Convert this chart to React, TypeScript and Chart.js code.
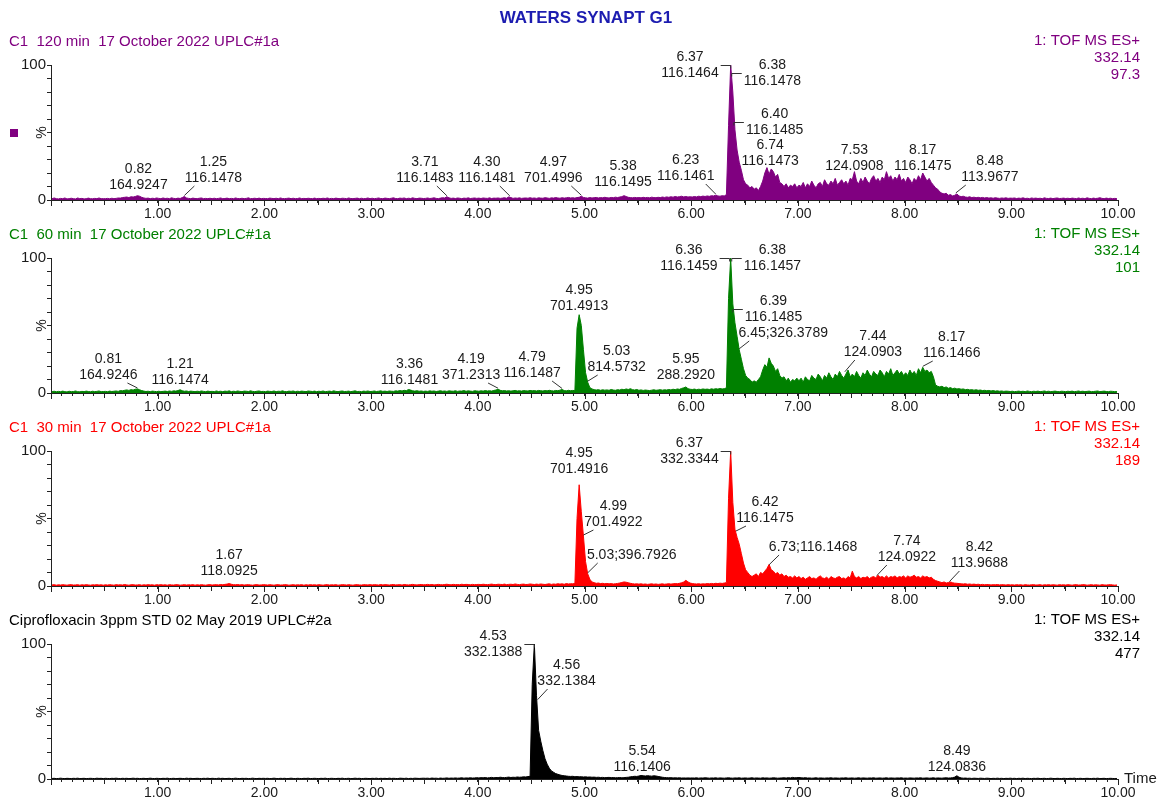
import React, { useEffect, useRef } from "react";
import { Chart, registerables } from "chart.js";

Chart.register(...registerables);

const FONT = '"Liberation Sans", Arial, Helvetica, sans-serif';
const W = 1165;
const H = 802;

// ---------- text content ----------
const TITLE = "WATERS SYNAPT G1";
const HEADERS = [
  "C1  120 min  17 October 2022 UPLC#1a",
  "C1  60 min  17 October 2022 UPLC#1a",
  "C1  30 min  17 October 2022 UPLC#1a",
  "Ciprofloxacin 3ppm STD 02 May 2019 UPLC#2a",
];
const SCAN_FUNCTION = "1: TOF MS ES+";
const TRACE_MASS = "332.14";
const FULL_SCALE = ["97.3", "101", "189", "477"];
const X_AXIS_NAME = "Time";
const Y_AXIS_NAME = "%";

// ---------- trace sampling (retention time, min) ----------
const T_START = 0.01;
const T_STEP = 0.02;

// relative intensity (%) per scan, 25 scans per 0.5 min row
const P1_VALUES = [
  1, 1.5, 1, 0.8, 1.2, 1, 1.5, 0.8, 1, 1.3, 1, 0.8, 1.5, 1, 1.2, 0.8, 1, 1.4, 1, 0.9, 1.2, 1, 1.5, 1, 1,
  1, 1.2, 0.9, 1.3, 1, 1.2, 1.5, 1.4, 1.8, 2, 2.2, 1.8, 2.4, 2.2, 2.6, 3.2, 2.8, 2, 1.5, 1.2, 1.4, 1, 1.3, 1.1, 1.5,
  1.2, 1, 1.5, 1.1, 1.3, 1, 1.6, 1.2, 1, 1.4, 1.1, 1.8, 2.6, 1.5, 1.2, 1, 1.4, 1.1, 1, 1.3, 1.5, 1, 1.2, 1, 1.3,
  1, 1.3, 1, 1.2, 1.5, 1, 1.1, 1.4, 1, 1.2, 1, 1.5, 1.1, 1, 1.3, 1, 1.2, 1.6, 1, 1.1, 1.3, 1, 1.4, 1, 1.2,
  1.1, 1, 1.4, 1.2, 1, 1.3, 1, 1.5, 1.1, 1, 1.2, 1.4, 1, 1.3, 1, 1.1, 1.5, 1, 1.2, 1, 1.3, 1.1, 1, 1.4, 1,
  1.2, 1, 1.3, 1.1, 1.5, 1, 1.2, 1, 1.4, 1.1, 1, 1.3, 1.2, 1, 1.5, 1.1, 1, 1.2, 1.4, 1, 1.3, 1, 1.1, 1.5, 1,
  1.3, 1, 1.2, 1.5, 1.1, 1, 1.4, 1.2, 1, 1.3, 1.6, 1.1, 1, 1.4, 1.2, 1.5, 1, 1.3, 1.1, 1.6, 1.2, 1, 1.4, 1.3, 1.1,
  1.2, 1.5, 1.1, 1.3, 1.6, 1.2, 1, 1.4, 1.7, 1.5, 2.4, 1.6, 1.2, 1.4, 1.1, 1.5, 1.3, 1, 1.4, 1.2, 1.6, 1.1, 1.3, 1.5, 1.2,
  1.4, 1.1, 1.5, 1.3, 1.2, 1.6, 1.1, 1.4, 1.3, 1.5, 1.2, 1.4, 1.7, 1.3, 2.3, 1.8, 1.2, 1.5, 1.3, 1.6, 1.2, 1.4, 1.5, 1.3, 1.7,
  1.3, 1.5, 1.2, 1.6, 1.4, 1.3, 1.7, 1.5, 1.2, 1.6, 1.4, 1.8, 1.5, 1.3, 1.7, 1.4, 1.6, 1.9, 1.5, 1.7, 1.4, 1.8, 2, 2.8, 1.9,
  1.6, 1.4, 1.8, 1.5, 1.7, 1.9, 1.5, 1.8, 1.6, 2, 1.7, 1.5, 1.9, 1.7, 2.1, 1.8, 2.2, 2.5, 3.2, 2.6, 2, 1.8, 1.6, 1.9, 1.7,
  1.8, 1.6, 2, 1.7, 1.9, 1.6, 2.1, 1.8, 1.7, 2, 1.8, 2.2, 1.9, 2.3, 2, 2.4, 2.1, 2.6, 2.2, 2.5, 2.8, 2.3, 2.6, 2.2, 2.4,
  2.2, 2.6, 2.3, 2.8, 2.5, 2.9, 2.6, 3, 2.7, 3.2, 3, 3.6, 3, 2.8, 3.2, 3, 4, 55, 100, 80, 52, 37, 28, 22, 15,
  12, 11, 9, 10, 8, 9, 7, 10, 14, 20, 24, 19, 23, 21, 17, 19, 13, 12, 10, 12, 9, 11, 10, 12, 9,
  11, 10, 13, 9, 12, 10, 14, 11, 9, 12, 13, 10, 15, 12, 11, 14, 12, 16, 11, 13, 15, 12, 14, 11, 16,
  15, 21, 14, 12, 16, 13, 17, 14, 12, 16, 18, 14, 16, 13, 17, 15, 21, 16, 18, 14, 17, 15, 19, 14, 16,
  13, 17, 15, 12, 16, 14, 18, 15, 20, 17, 14, 16, 13, 11, 9, 8, 6, 5, 4.5, 5, 3.5, 4, 3, 3.5, 4.5,
  3, 2.5, 2.8, 2.2, 2, 2.4, 1.8, 2.1, 1.7, 2, 1.6, 1.9, 1.5, 1.8, 1.4, 1.6, 1.3, 1.7, 1.4, 1.2, 1.5, 1.3, 1.6, 1.2, 1.4,
  1.3, 1.5, 1.1, 1.4, 1.2, 1.6, 1.1, 1.3, 1, 1.5, 1.2, 1.4, 1.1, 1.3, 1, 1.6, 1.2, 1.1, 1.4, 1, 1.3, 1.5, 1.1, 1.2, 1.4,
  1.1, 1.3, 1, 1.4, 1.2, 1, 1.5, 1.1, 1.3, 1, 1.6, 1.2, 1, 1.4, 1.1, 1.3, 1.7, 1.2, 1, 1.4, 1.1, 1.3, 1, 1.2, 1,
];

const P2_VALUES = [
  1, 1.3, 0.9, 1.2, 1, 1.4, 1, 0.8, 1.3, 1, 1.1, 1.5, 1, 0.9, 1.2, 1, 1.4, 1.1, 0.9, 1.3, 1, 1.2, 1.5, 1, 1.1,
  1.2, 1, 1.4, 1.1, 1.3, 1.5, 1.2, 1.8, 1.6, 2, 2.3, 1.9, 2.5, 2.2, 2.8, 3, 2.4, 1.8, 1.4, 1.1, 1.3, 1, 1.4, 1.2, 1,
  1.3, 1, 1.2, 1.4, 1.1, 1.5, 1.2, 1.6, 1.4, 1.8, 2.4, 1.7, 1.3, 1.5, 1.1, 1.4, 1.2, 1, 1.3, 1.1, 1.5, 1.2, 1, 1.4, 1.1,
  1.2, 1, 1.5, 1.1, 1.3, 1, 1.4, 1.2, 1.6, 1, 1.3, 1.1, 1.5, 1.2, 1, 1.4, 1.3, 1.1, 1.6, 1.2, 1, 1.3, 1.5, 1.1, 1.2,
  1, 1.4, 1.2, 1.1, 1.5, 1, 1.3, 1.2, 1.6, 1.1, 1, 1.4, 1.2, 1.5, 1, 1.3, 1.1, 1.4, 1.2, 1, 1.5, 1.3, 1.1, 1.4, 1,
  1.3, 1.1, 1.5, 1, 1.2, 1.4, 1.1, 1.6, 1.2, 1, 1.3, 1.5, 1.1, 1.2, 1.4, 1, 1.3, 1.6, 1.1, 1.2, 1, 1.4, 1.2, 1.5, 1.1,
  1.2, 1.5, 1.1, 1.3, 1.6, 1.2, 1.4, 1.1, 1.5, 1.3, 1.2, 1.6, 1.4, 1.8, 1.5, 2, 1.7, 2.6, 2.2, 1.6, 1.4, 1.7, 1.3, 1.5, 1.2,
  1.4, 1.2, 1.6, 1.3, 1.5, 1.1, 1.4, 1.7, 1.3, 1.5, 1.2, 1.6, 1.4, 1.3, 1.7, 1.2, 1.5, 1.4, 1.8, 1.3, 1.6, 1.4, 1.2, 1.7, 1.5,
  1.3, 1.6, 1.4, 1.8, 1.5, 1.7, 1.4, 1.9, 2.2, 2.8, 2, 1.6, 1.8, 1.5, 1.7, 1.4, 1.6, 1.9, 1.5, 1.7, 1.4, 1.8, 1.6, 1.5, 1.9,
  1.6, 1.8, 1.5, 1.9, 1.7, 1.5, 1.8, 1.6, 2, 1.7, 1.5, 1.9, 1.7, 2.1, 2.6, 1.8, 1.6, 2, 1.7, 1.9, 1.8, 48, 58, 50, 32,
  15, 8, 4, 3, 2.5, 2.2, 2.5, 2, 2.4, 2.1, 2.3, 2, 2.6, 2.2, 2, 2.5, 2.2, 2.8, 2.4, 3, 2.6, 3.2, 2.5, 2.2, 2.6,
  2, 2.3, 1.9, 2.2, 2, 1.8, 2.1, 2.4, 2, 2.2, 2.5, 2.1, 2.4, 2.2, 2.6, 2.3, 2.8, 2.5, 3, 2.7, 3.4, 3.8, 4.5, 3.2, 2.8,
  2.6, 2.9, 2.5, 2.8, 2.6, 3, 2.7, 2.9, 2.6, 3.1, 2.8, 3.2, 2.9, 3.3, 3, 3.2, 3.8, 70, 100, 66, 52, 42, 32, 25, 18,
  13, 11, 10, 8, 9, 8, 10, 12, 17, 21, 19, 26, 22, 20, 16, 18, 13, 11, 12, 9, 11, 8, 10, 9, 11,
  9, 11, 8, 12, 10, 9, 13, 11, 10, 14, 12, 9, 13, 11, 15, 12, 10, 14, 12, 16, 13, 11, 14, 17, 12,
  14, 12, 16, 13, 11, 15, 13, 17, 14, 12, 16, 14, 13, 17, 15, 12, 16, 14, 18, 13, 15, 17, 14, 16, 13,
  15, 13, 17, 14, 16, 13, 18, 15, 19, 16, 17, 15, 16, 12, 6, 5, 4.5, 5, 4, 4.5, 3.5, 4, 3.2, 3.6, 3,
  3.2, 2.8, 3, 2.5, 2.7, 2.3, 2.5, 2.1, 2.4, 2, 2.2, 1.8, 2, 1.7, 1.9, 1.5, 1.8, 1.4, 1.6, 1.3, 1.5, 1.2, 1.4, 1.3, 1.1,
  1.3, 1, 1.2, 1.4, 1.1, 1.3, 1, 1.5, 1.2, 1, 1.3, 1.1, 1.4, 1, 1.2, 1.5, 1.1, 1.3, 1, 1.2, 1.4, 1.1, 1, 1.3, 1.2,
  1, 1.3, 1.1, 1.4, 1, 1.2, 1.5, 1.1, 1.3, 1, 1.2, 1.4, 1, 1.1, 1.3, 1.5, 1, 1.2, 1.4, 1.1, 1, 1.3, 1.2, 1, 1.1,
];

const P3_VALUES = [
  0.8, 1, 0.6, 0.9, 0.7, 1, 0.8, 0.6, 0.9, 1, 0.7, 0.8, 1, 0.6, 0.9, 0.7, 1, 0.8, 0.6, 0.9, 0.8, 1, 0.7, 0.9, 0.6,
  0.9, 0.7, 1, 0.8, 0.6, 1, 0.8, 0.9, 0.7, 1.1, 0.8, 0.6, 0.9, 1, 0.7, 0.8, 1, 0.6, 0.9, 0.7, 1, 0.8, 0.9, 0.6, 1,
  0.8, 1, 0.7, 0.9, 0.6, 1, 0.8, 0.7, 1, 0.9, 0.6, 0.8, 1, 0.7, 0.9, 0.8, 1, 0.6, 0.9, 0.7, 1, 0.8, 0.6, 0.9, 1,
  0.7, 0.9, 1, 0.8, 1.1, 0.9, 1.2, 1.4, 1.8, 1.3, 1, 0.9, 1.1, 0.8, 1, 0.7, 0.9, 1, 0.8, 0.6, 0.9, 1, 0.7, 0.8, 1,
  0.9, 0.7, 1, 0.8, 0.6, 0.9, 1, 0.7, 0.8, 1, 0.9, 0.6, 0.8, 1, 0.7, 0.9, 0.8, 1, 0.6, 0.9, 0.7, 1, 0.8, 0.9, 0.7,
  1, 0.8, 0.6, 0.9, 1, 0.7, 0.9, 0.8, 1, 0.6, 0.8, 1, 0.9, 0.7, 1, 0.8, 0.6, 0.9, 1, 0.8, 0.7, 1, 0.9, 0.8, 1,
  0.8, 1, 0.9, 0.7, 1.1, 0.8, 1, 0.9, 0.7, 1, 1.1, 0.8, 0.9, 1, 0.7, 1.1, 0.9, 0.8, 1, 1.2, 0.9, 0.8, 1, 1.1, 0.9,
  1, 1.2, 0.9, 1.1, 0.8, 1, 1.2, 1, 0.9, 1.1, 1.3, 1, 0.9, 1.2, 1, 1.1, 0.9, 1.3, 1, 1.2, 1.1, 0.9, 1.2, 1, 1.1,
  1.2, 1, 1.3, 1.1, 1, 1.2, 1.4, 1.1, 1, 1.3, 1.2, 1.1, 1.4, 1, 1.2, 1.3, 1.1, 1.5, 1.2, 1, 1.3, 1.4, 1.1, 1.2, 1.5,
  1.3, 1.1, 1.4, 1.2, 1.5, 1.3, 1.1, 1.4, 1.6, 1.2, 1.5, 1.3, 1.7, 1.4, 1.6, 1.3, 1.8, 1.5, 1.7, 1.6, 1.9, 50, 75, 55, 37,
  18, 9, 5, 3, 2.5, 2, 2.2, 1.8, 2, 1.7, 1.9, 1.6, 1.8, 1.5, 1.7, 1.9, 2.2, 2.6, 3, 2.8, 2.4, 2, 1.7, 1.5, 1.6,
  1.4, 1.6, 1.3, 1.5, 1.2, 1.4, 1.6, 1.3, 1.5, 1.2, 1.4, 1.6, 1.3, 1.5, 1.7, 1.4, 1.6, 1.8, 1.7, 2, 2.4, 3, 4.2, 3, 2.2,
  1.8, 1.6, 1.5, 1.7, 1.4, 1.6, 1.5, 1.8, 1.6, 1.9, 1.7, 2, 1.8, 2.1, 1.9, 2.2, 2.5, 65, 100, 62, 42, 36, 31, 24, 17,
  12, 10, 8, 7, 8, 9, 7, 10, 9, 11, 13, 16, 12, 11, 9, 10, 8, 9, 7, 8, 6.5, 7, 6, 7.5, 6,
  7, 5.5, 6.5, 5, 6, 7, 5.5, 6, 5, 6.5, 7.5, 6, 5.5, 6.5, 5, 7, 6, 5.5, 6.5, 7, 5.5, 6, 5, 7, 6,
  11, 7, 6, 7, 5.5, 6.5, 6, 7, 5.5, 6.5, 7, 6, 8, 6.5, 7, 6, 7.5, 6, 7, 6.5, 7.5, 6, 7, 6.5, 7.5,
  6, 7.5, 6.5, 7, 8, 6.5, 7, 6, 7.5, 6.5, 7, 6, 6.5, 5, 4, 3.5, 3, 2.5, 3, 2.2, 2.6, 3, 2.4, 2.1, 2,
  1.8, 1.6, 1.5, 1.7, 1.3, 1.5, 1.2, 1.4, 1.1, 1.3, 1, 1.2, 0.9, 1.1, 1, 0.8, 1, 0.9, 1.1, 0.8, 1, 0.9, 0.7, 1, 0.8,
  0.9, 0.7, 1, 0.8, 0.9, 0.6, 1, 0.8, 0.7, 0.9, 1, 0.7, 0.8, 1, 0.6, 0.9, 0.8, 1, 0.7, 0.9, 0.8, 0.6, 1, 0.8, 0.9,
  0.7, 1, 0.8, 0.6, 0.9, 1, 0.7, 0.8, 1, 0.9, 0.6, 0.8, 1, 0.7, 0.9, 0.8, 0.6, 1, 0.8, 0.7, 0.9, 1, 0.8, 0.6, 0.8,
];

const P4_VALUES = [
  0.4, 0.5, 0.3, 0.4, 0.6, 0.4, 0.3, 0.5, 0.4, 0.3, 0.5, 0.4, 0.6, 0.3, 0.4, 0.5, 0.3, 0.4, 0.5, 0.4, 0.3, 0.6, 0.4, 0.5, 0.3,
  0.5, 0.4, 0.3, 0.5, 0.4, 0.6, 0.4, 0.3, 0.5, 0.4, 0.5, 0.3, 0.4, 0.6, 0.4, 0.5, 0.3, 0.4, 0.5, 0.3, 0.4, 0.6, 0.4, 0.3, 0.5,
  0.4, 0.3, 0.5, 0.4, 0.6, 0.3, 0.4, 0.5, 0.3, 0.4, 0.5, 0.4, 0.3, 0.6, 0.4, 0.5, 0.3, 0.4, 0.5, 0.4, 0.3, 0.5, 0.4, 0.6, 0.3,
  0.5, 0.4, 0.3, 0.6, 0.4, 0.5, 0.3, 0.4, 0.5, 0.3, 0.4, 0.6, 0.4, 0.3, 0.5, 0.4, 0.5, 0.3, 0.4, 0.6, 0.4, 0.3, 0.5, 0.4, 0.5,
  0.4, 0.5, 0.3, 0.4, 0.6, 0.4, 0.3, 0.5, 0.4, 0.5, 0.3, 0.4, 0.6, 0.4, 0.3, 0.5, 0.4, 0.3, 0.5, 0.4, 0.6, 0.3, 0.4, 0.5, 0.4,
  0.3, 0.5, 0.4, 0.6, 0.3, 0.4, 0.5, 0.4, 0.3, 0.5, 0.4, 0.6, 0.3, 0.4, 0.5, 0.3, 0.4, 0.6, 0.4, 0.5, 0.3, 0.4, 0.5, 0.4, 0.3,
  0.5, 0.4, 0.6, 0.3, 0.5, 0.4, 0.5, 0.3, 0.6, 0.4, 0.5, 0.4, 0.3, 0.6, 0.5, 0.4, 0.6, 0.3, 0.5, 0.4, 0.6, 0.5, 0.4, 0.5, 0.6,
  0.5, 0.6, 0.4, 0.7, 0.5, 0.6, 0.4, 0.7, 0.5, 0.6, 0.8, 0.5, 0.7, 0.6, 0.8, 0.6, 0.7, 0.9, 0.6, 0.8, 0.7, 0.9, 0.7, 0.8, 1,
  0.8, 1, 0.9, 1.1, 0.8, 1, 1.2, 0.9, 1.1, 1, 1.3, 1.1, 1, 1.2, 1.4, 1.1, 1.3, 1.2, 1.5, 1.3, 1.4, 1.6, 1.5, 1.8, 2,
  70, 100, 62, 36, 28, 21, 15, 11, 8, 6, 5, 4, 3.5, 3, 2.6, 2.4, 2.2, 2, 1.9, 2, 1.7, 1.8, 1.6, 1.7, 1.5,
  1.6, 1.4, 1.5, 1.3, 1.4, 1.2, 1.3, 1.1, 1.2, 1, 1.1, 1.2, 1, 1.1, 0.9, 1, 1.1, 0.9, 1, 1.2, 1.3, 1.6, 1.8, 2, 1.9,
  2.2, 2.6, 2.4, 2.2, 2.5, 2.3, 2.1, 2.4, 2.2, 1.9, 1.6, 1.3, 1.1, 1, 0.9, 1, 0.8, 0.9, 0.8, 0.9, 0.7, 0.8, 0.7, 0.8, 0.7,
  0.8, 0.7, 0.9, 0.6, 0.8, 0.7, 0.9, 0.8, 0.6, 0.8, 0.7, 0.9, 0.6, 0.8, 0.7, 0.6, 0.8, 0.9, 0.7, 0.6, 0.8, 0.7, 0.9, 0.6, 0.7,
  0.8, 0.6, 0.7, 0.9, 0.6, 0.8, 0.7, 0.6, 0.9, 0.7, 0.8, 0.6, 0.7, 0.9, 0.8, 0.6, 0.7, 0.8, 0.9, 0.7, 1, 0.8, 1.2, 0.9, 1,
  1.1, 0.9, 0.8, 1, 0.7, 0.8, 0.6, 0.7, 0.9, 0.6, 0.8, 0.7, 0.6, 0.8, 0.7, 0.9, 0.6, 0.8, 0.7, 0.6, 0.8, 0.7, 0.9, 0.6, 0.7,
  0.8, 0.6, 0.7, 0.9, 0.6, 0.8, 0.7, 0.6, 0.8, 0.7, 0.9, 0.6, 0.7, 0.8, 0.6, 0.7, 0.9, 0.6, 0.8, 0.7, 0.6, 0.8, 0.7, 0.9, 0.6,
  0.7, 0.6, 0.8, 0.7, 0.6, 0.8, 0.7, 0.9, 0.6, 0.7, 0.8, 0.6, 0.7, 0.9, 0.6, 0.8, 0.7, 0.6, 0.8, 0.9, 0.7, 0.8, 1, 1.4, 2.4,
  1.3, 0.8, 0.6, 0.7, 0.5, 0.6, 0.4, 0.6, 0.5, 0.4, 0.6, 0.5, 0.4, 0.6, 0.5, 0.3, 0.5, 0.4, 0.6, 0.4, 0.5, 0.3, 0.5, 0.4, 0.6,
  0.4, 0.5, 0.3, 0.5, 0.4, 0.6, 0.3, 0.5, 0.4, 0.3, 0.5, 0.4, 0.6, 0.3, 0.4, 0.5, 0.3, 0.4, 0.6, 0.4, 0.3, 0.5, 0.4, 0.3, 0.5,
  0.4, 0.3, 0.5, 0.4, 0.6, 0.3, 0.4, 0.5, 0.3, 0.4, 0.5, 0.4, 0.3, 0.5, 0.4, 0.6, 0.3, 0.4, 0.5, 0.3, 0.4, 0.5, 0.4, 0.3, 0.4,
];

// ---------- peak annotations: retention time + base m/z ----------
const P1_PEAK_TIMES = [0.82, 1.25, 3.71, 4.3, 4.97, 5.38, 6.23, 6.37, 6.38, 6.4, 6.74, 7.53, 8.17, 8.48];
const P1_PEAK_MZ = ["164.9247", "116.1478", "116.1483", "116.1481", "701.4996", "116.1495", "116.1461", "116.1464", "116.1478", "116.1485", "116.1473", "124.0908", "116.1475", "113.9677"];
const P2_PEAK_TIMES = [0.81, 1.21, 3.36, 4.19, 4.79, 4.95, 5.03, 5.95, 6.36, 6.38, 6.39, 6.45, 7.44, 8.17];
const P2_PEAK_MZ = ["164.9246", "116.1474", "116.1481", "371.2313", "116.1487", "701.4913", "814.5732", "288.2920", "116.1459", "116.1457", "116.1485", "326.3789", "124.0903", "116.1466"];
const P3_PEAK_TIMES = [1.67, 4.95, 4.99, 5.03, 6.37, 6.42, 6.73, 7.74, 8.42];
const P3_PEAK_MZ = ["118.0925", "701.4916", "701.4922", "396.7926", "332.3344", "116.1475", "116.1468", "124.0922", "113.9688"];
const P4_PEAK_TIMES = [4.53, 4.56, 5.54, 8.49];
const P4_PEAK_MZ = ["332.1388", "332.1384", "116.1406", "124.0836"];

// ---------- label placement (layout only): [kind, dx px, lift px, anchor %] ----------
type Lay = [string, number, number, number];
const P1_LABEL_LAYOUT: Lay[] = [
  ["c", 0, 15, 0], ["R", 29, 22, 2.6], ["L", -22, 22, 2.4], ["L", -23, 22, 2.3], ["L", -28, 22, 2.8],
  ["c", -2, 18, 0], ["L", -30, 24, 3.6], ["bl", 0, 0, 100], ["br", 0, 0, 94], ["br", 0, 0, 58],
  ["c", 0, 39, 0], ["c", 0, 34, 0], ["c", 0, 34, 0], ["R", 34, 23, 4.5],
];
const P2_LABEL_LAYOUT: Lay[] = [
  ["L", -29, 18, 3], ["c", 0, 13, 0], ["c", 0, 13, 0], ["L", -27, 18, 2.8], ["L", -30, 20, 2.6],
  ["c", 0, 87, 0], ["R", 29, 26, 8], ["c", 0, 18, 0], ["bl", 0, 0, 100], ["br", 0, 0, 100],
  ["br", 0, 0, 62], ["R1", 44, 60, 32], ["R", 28, 41, 15], ["R", 29, 40, 19],
];
const P3_LABEL_LAYOUT: Lay[] = [
  ["c", 0, 15, 0], ["c", 0, 117, 0], ["R", 30, 64, 37], ["R1", 44, 31, 9], ["bl", 0, 0, 100],
  ["R", 29, 68, 40], ["R1", 44, 39, 15], ["R", 30, 29, 7], ["R", 30, 23, 2.5],
];
const P4_LABEL_LAYOUT: Lay[] = [["bl", 0, 0, 100], ["R", 29, 98, 58], ["c", 0, 12, 0], ["c", 0, 12, 0]];

// ---------- styling / geometry ----------
const COLORS = ["#800080", "#008000", "#ff0000", "#000000"];
const TEXT_COLOR = "#1a1a1a";
const AXIS_COLOR = "#222222";
const AREA_LEFT = 51;
const AREA_RIGHT = 1118;
const FIRST_TOP = 65;
const FIRST_BOTTOM = 200;
const PANEL_STEP = 193;
const RIGHT_TEXT_X = 1140;

const PANELS = [
  { values: P1_VALUES, times: P1_PEAK_TIMES, mz: P1_PEAK_MZ, layout: P1_LABEL_LAYOUT },
  { values: P2_VALUES, times: P2_PEAK_TIMES, mz: P2_PEAK_MZ, layout: P2_LABEL_LAYOUT },
  { values: P3_VALUES, times: P3_PEAK_TIMES, mz: P3_PEAK_MZ, layout: P3_LABEL_LAYOUT },
  { values: P4_VALUES, times: P4_PEAK_TIMES, mz: P4_PEAK_MZ, layout: P4_LABEL_LAYOUT },
];

function seg(ctx: CanvasRenderingContext2D, x1: number, y1: number, x2: number, y2: number) {
  ctx.beginPath();
  ctx.moveTo(x1, y1);
  ctx.lineTo(x2, y2);
  ctx.stroke();
}

function makeDecor(idx: number) {
  const p = PANELS[idx];
  return {
    id: "decor" + idx,
    afterDraw(chart: any) {
      const ctx: CanvasRenderingContext2D = chart.ctx;
      const xs = chart.scales.x;
      const ys = chart.scales.y;
      const top = chart.chartArea.top;
      const base = ys.getPixelForValue(0);
      const color = COLORS[idx];
      ctx.save();

      // longer ticks at half and whole minutes
      ctx.strokeStyle = AXIS_COLOR;
      ctx.lineWidth = 1;
      for (let k = 0; k <= 20; k++) {
        const v = k / 2;
        const x = Math.round(xs.getPixelForValue(v)) + 0.5;
        seg(ctx, x, base, x, base + (k % 2 === 0 ? 6 : 5));
      }

      // title
      if (idx === 0) {
        ctx.font = `bold 17px ${FONT}`;
        ctx.fillStyle = "#1c1cb0";
        ctx.textAlign = "center";
        ctx.textBaseline = "middle";
        ctx.fillText(TITLE, 586, 18);
        ctx.fillStyle = color;
        ctx.fillRect(10, Math.round((top + base) / 2) - 4, 8, 8);
      }

      // header and right-side block
      ctx.font = `15px ${FONT}`;
      ctx.fillStyle = color;
      ctx.textBaseline = "middle";
      ctx.textAlign = "left";
      ctx.fillText(HEADERS[idx], 9, top - 23);
      ctx.textAlign = "right";
      ctx.fillText(SCAN_FUNCTION, RIGHT_TEXT_X, top - 24);
      ctx.fillText(TRACE_MASS, RIGHT_TEXT_X, top - 7);
      ctx.fillText(FULL_SCALE[idx], RIGHT_TEXT_X, top + 10);

      // % label
      ctx.save();
      ctx.translate(42, (top + base) / 2);
      ctx.rotate(-Math.PI / 2);
      ctx.fillStyle = TEXT_COLOR;
      ctx.font = `14px ${FONT}`;
      ctx.textAlign = "center";
      ctx.fillText(Y_AXIS_NAME, 0, 0);
      ctx.restore();

      if (idx === 3) {
        ctx.font = `15px ${FONT}`;
        ctx.fillStyle = TEXT_COLOR;
        ctx.textAlign = "left";
        ctx.fillText(X_AXIS_NAME, 1124, base);
      }

      // peak labels
      ctx.font = `14px ${FONT}`;
      ctx.fillStyle = TEXT_COLOR;
      ctx.strokeStyle = "#333333";
      ctx.lineWidth = 1;
      ctx.textBaseline = "middle";
      p.times.forEach((t: number, i: number) => {
        const [kind, dx, lift, h] = p.layout[i];
        const px = xs.getPixelForValue(t);
        const l1 = t.toFixed(2);
        const l2 = p.mz[i];
        const y2 = base - lift;
        if (kind === "c" || kind === "L" || kind === "R") {
          ctx.textAlign = "center";
          ctx.fillText(l1, px + dx, y2 - 16);
          ctx.fillText(l2, px + dx, y2);
          if (kind !== "c") {
            const s = kind === "R" ? 1 : -1;
            seg(ctx, px, ys.getPixelForValue(h) - 1, px + s * 10, y2 + 8);
          }
        } else if (kind === "R1") {
          ctx.textAlign = "center";
          ctx.fillText(`${l1};${l2}`, px + dx, y2);
          seg(ctx, px, ys.getPixelForValue(h) - 1, px + 10, y2 + 8);
        } else {
          const by = Math.round(ys.getPixelForValue(h)) + 0.5;
          const w = Math.max(ctx.measureText(l1).width, ctx.measureText(l2).width);
          const s = kind === "br" ? 1 : -1;
          seg(ctx, px, by, px + s * 10, by);
          seg(ctx, px, by, px, by + 3);
          const cx = kind === "br" ? px + 12 + w / 2 : px - 12 - w / 2;
          ctx.textAlign = "center";
          ctx.fillText(l1, cx, by - 8);
          ctx.fillText(l2, cx, by + 8);
        }
      });
      ctx.restore();
    },
  };
}

function buildChart(canvas: HTMLCanvasElement, idx: number) {
  const p = PANELS[idx];
  const points = p.values.map((v: number, i: number) => ({ x: +(T_START + i * T_STEP).toFixed(2), y: v }));
  const top = FIRST_TOP + PANEL_STEP * idx;
  const bottom = FIRST_BOTTOM + PANEL_STEP * idx;
  const color = COLORS[idx];
  return new Chart(canvas, {
    type: "line",
    data: {
      datasets: [
        {
          data: points,
          borderColor: color,
          backgroundColor: color,
          borderWidth: 1,
          pointRadius: 0,
          fill: "origin",
          tension: 0,
        },
      ],
    },
    options: {
      animation: false,
      responsive: false,
      devicePixelRatio: 1,
      events: [],
      parsing: false,
      layout: {
        padding: { left: AREA_LEFT - 40, right: W - AREA_RIGHT, top, bottom: H - bottom - 20 },
      },
      plugins: { legend: { display: false }, tooltip: { enabled: false }, title: { display: false } },
      scales: {
        x: {
          type: "linear",
          min: 0,
          max: 10,
          afterBuildTicks: (s: any) => {
            const t = [];
            for (let k = 0; k <= 100; k++) t.push({ value: k / 10 });
            s.ticks = t;
          },
          afterFit: (s: any) => {
            s.height = 20;
          },
          grid: { drawOnChartArea: false, drawTicks: true, tickLength: 3, color: AXIS_COLOR },
          border: { display: true, color: AXIS_COLOR, width: 1 },
          ticks: {
            autoSkip: false,
            maxRotation: 0,
            minRotation: 0,
            padding: 3,
            color: TEXT_COLOR,
            font: { family: FONT, size: 14 },
            callback: (v: any) => {
              const n = Number(v);
              return n >= 1 && Math.abs(n - Math.round(n)) < 1e-6 ? n.toFixed(2) : "";
            },
          },
        },
        y: {
          type: "linear",
          min: 0,
          max: 100,
          afterBuildTicks: (s: any) => {
            const t = [];
            for (let k = 0; k <= 10; k++) t.push({ value: k * 10 });
            s.ticks = t;
          },
          afterFit: (s: any) => {
            s.width = 40;
          },
          grid: { drawOnChartArea: false, drawTicks: true, tickLength: 4, color: AXIS_COLOR },
          border: { display: true, color: AXIS_COLOR, width: 1 },
          ticks: {
            autoSkip: false,
            padding: 1,
            color: TEXT_COLOR,
            font: { family: FONT, size: 15 },
            callback: (v: any) => (Number(v) === 0 || Number(v) === 100 ? String(v) : ""),
          },
        },
      },
    },
    plugins: [makeDecor(idx)],
  } as any);
}

export default function App() {
  const refs = [useRef<HTMLCanvasElement>(null), useRef<HTMLCanvasElement>(null), useRef<HTMLCanvasElement>(null), useRef<HTMLCanvasElement>(null)];
  useEffect(() => {
    const charts = refs.map((r, i) => buildChart(r.current as HTMLCanvasElement, i));
    return () => charts.forEach((c) => c.destroy());
  }, []);
  return (
    <div style={{ position: "absolute", left: 0, top: 0, width: W, height: H, background: "#fff" }}>
      {refs.map((r, i) => (
        <canvas key={i} ref={r} width={W} height={H} style={{ position: "absolute", left: 0, top: 0, width: W, height: H }} />
      ))}
    </div>
  );
}
